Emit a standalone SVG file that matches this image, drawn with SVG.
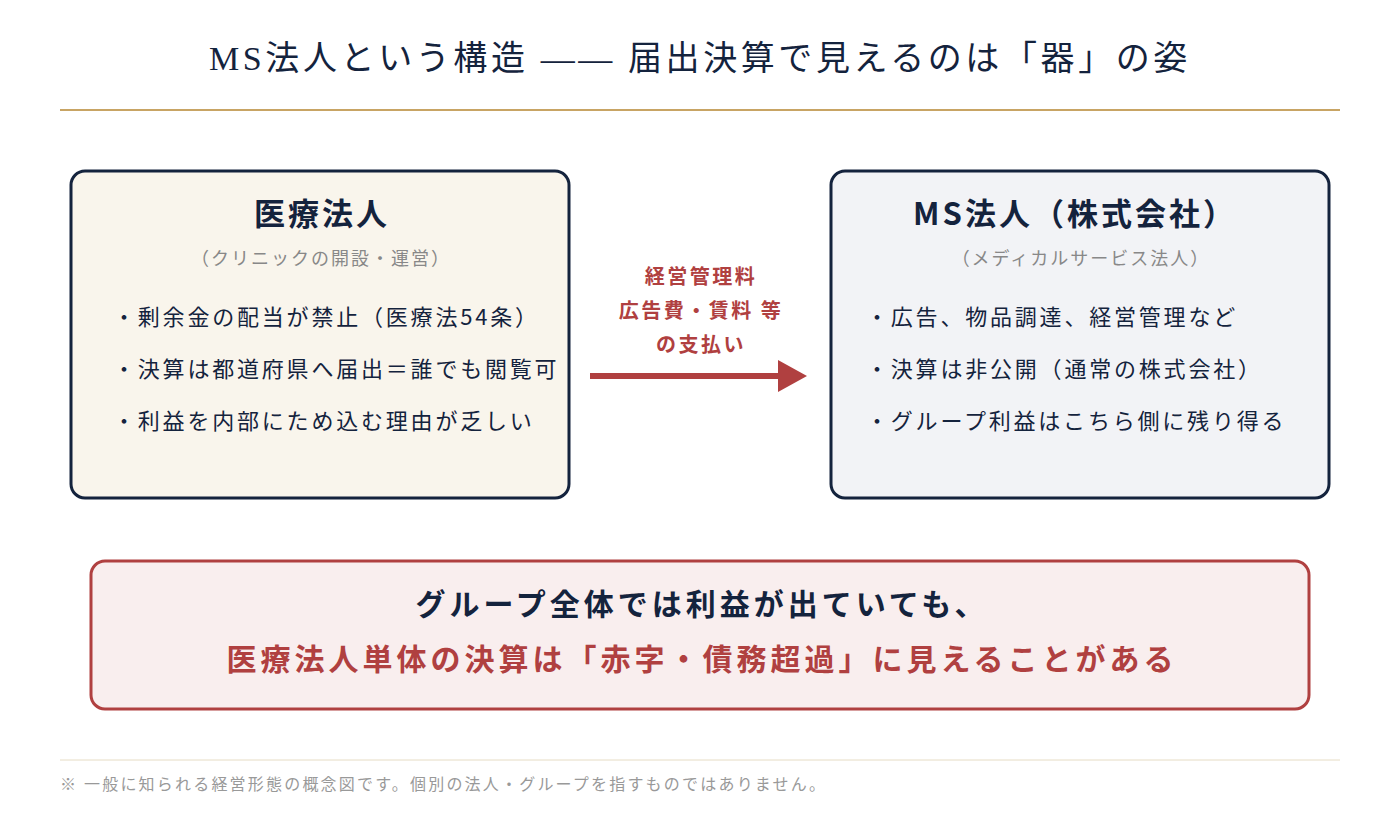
<svg xmlns="http://www.w3.org/2000/svg" width="1400" height="830" viewBox="0 0 1400 830">
<style>
text{font-family:"Noto Sans CJK JP","Noto Sans",sans-serif}
.title{font-size:34px;fill:#14233d;font-family:"Liberation Serif","Noto Sans CJK JP",serif;letter-spacing:3.6px}
.h{font-size:31px;font-weight:bold;fill:#14233d;letter-spacing:3px}
.sub{font-size:18px;fill:#888;letter-spacing:2px}
.item{font-size:22px;fill:#14233d;letter-spacing:2.8px}
.lab{font-size:20px;font-weight:bold;fill:#b04040;letter-spacing:2.5px}
.big{font-size:30px;font-weight:bold;letter-spacing:4px}
.note{font-size:16px;fill:#999;letter-spacing:2.2px}
</style>
<rect width="1400" height="830" fill="#fff"/>
<text class="title" x="700" y="70" text-anchor="middle">MS法人という構造 —— 届出決算で見えるのは「器」の姿</text>
<line x1="60" y1="110" x2="1340" y2="110" stroke="#c8a464" stroke-width="2"/>
<g id="iryo">
<rect x="71" y="171" width="498" height="327" rx="14" fill="#f9f5ec" stroke="#14233d" stroke-width="3"/>
<text class="h" x="322" y="225" text-anchor="middle">医療法人</text>
<text class="sub" x="321" y="265" text-anchor="middle">（クリニックの開設・運営）</text>
<text class="item" x="113" y="325">・剰余金の配当が禁止（医療法54条）</text>
<text class="item" x="113" y="377">・決算は都道府県へ届出＝誰でも閲覧可</text>
<text class="item" x="113" y="429">・利益を内部にため込む理由が乏しい</text>
</g>
<g id="ms">
<rect x="831" y="171" width="498" height="327" rx="14" fill="#f2f3f6" stroke="#14233d" stroke-width="3"/>
<text class="h" x="1075" y="225" text-anchor="middle">MS法人（株式会社）</text>
<text class="sub" x="1081" y="265" text-anchor="middle">（メディカルサービス法人）</text>
<text class="item" x="866" y="325">・広告、物品調達、経営管理など</text>
<text class="item" x="866" y="377">・決算は非公開（通常の株式会社）</text>
<text class="item" x="866" y="429">・グループ利益はこちら側に残り得る</text>
</g>
<g id="connectors">
<line x1="590" y1="376" x2="780" y2="376" stroke="#b04040" stroke-width="6"/>
<polygon points="778,360 807,376 778,392" fill="#b04040"/>
<text class="lab" x="701" y="284" text-anchor="middle">経営管理料</text>
<text class="lab" x="701" y="318" text-anchor="middle">広告費・賃料 等</text>
<text class="lab" x="701" y="352" text-anchor="middle">の支払い</text>
</g>
<g id="summary">
<rect x="91" y="561" width="1218" height="148" rx="14" fill="#f9eeee" stroke="#b04040" stroke-width="3"/>
<text class="big" x="702" y="615" text-anchor="middle" fill="#14233d">グループ全体では利益が出ていても、</text>
<text class="big" x="702" y="670" text-anchor="middle" fill="#b04040">医療法人単体の決算は「赤字・債務超過」に見えることがある</text>
</g>
<line x1="60" y1="760" x2="1340" y2="760" stroke="#e6dcc4" stroke-width="1"/>
<text class="note" x="60" y="790">※ 一般に知られる経営形態の概念図です。個別の法人・グループを指すものではありません。</text>
</svg>
